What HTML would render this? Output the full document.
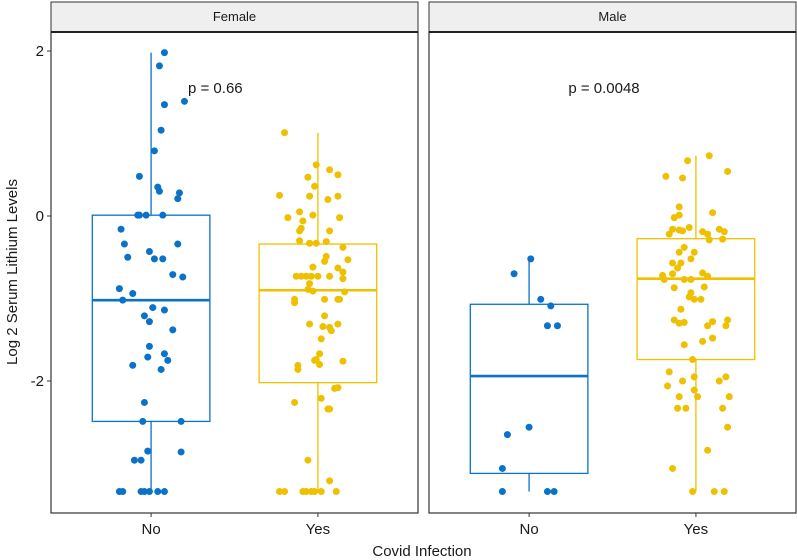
<!DOCTYPE html>
<html><head><meta charset="utf-8"><style>
html,body{margin:0;padding:0;background:#fff;}
svg{display:block;font-family:"Liberation Sans",Arial,sans-serif;}
</style></head><body>
<svg id="chart" width="797" height="560" viewBox="0 0 797 560"></svg>
<script>
const panels = ["Female","Male"];
const categories = ["No","Yes"];
const yTicks = [2,0,-2];
const pLabels = ["p = 0.66","p = 0.0048"];
// box stats [q1, median, q3, whiskerLo, whiskerHi]
const boxFemaleNo = [-2.49,-1.02,0.01,-3.34,1.98];
const boxFemaleYes = [-2.02,-0.90,-0.34,-3.34,1.01];
const boxMaleNo = [-3.12,-1.94,-1.07,-3.34,-0.52];
const boxMaleYes = [-1.74,-0.76,-0.275,-3.34,0.73];
const femaleNoValues = [1.98,1.82,1.39,1.35,1.04,0.79,0.48,0.35,0.30,0.28,0.21,0.01,0.01,0.01,0.01,-0.16,-0.34,-0.34,-0.50,-0.43,-0.52,-0.52,-0.71,-0.74,-0.88,-0.94,-1.02,-1.11,-1.14,-1.21,-1.28,-1.38,-1.58,-1.67,-1.75,-1.71,-1.81,-1.86,-2.26,-2.49,-2.49,-2.85,-2.86,-2.96,-2.96,-3.34,-3.34,-3.34,-3.34,-3.34,-3.34,-3.34];
const femaleNoJitter = [8,5,20,8,6,2,-7,4,5,17,16,-8,-7,-3,7,-18,-16,16,-14,-1,2,7,13,19,-19,-11,-17,1,8,-4,-1,13,-1,8,10,-2,-11,6,-4,-5,18,-2,18,-10,-6,-19,-17,-6,-4,-1,4,8];
const femaleYesValues = [1.01,0.62,0.56,0.50,0.47,0.36,0.25,0.24,0.20,0.24,0.05,0.01,-0.02,-0.06,-0.02,-0.15,-0.18,-0.18,-0.30,-0.33,-0.33,-0.31,-0.38,-0.49,-0.55,-0.53,-0.62,-0.63,-0.68,-0.76,-0.73,-0.73,-0.73,-0.73,-0.73,-0.73,-0.82,-0.89,-0.91,-0.92,-1.01,-1.05,-1.01,-1.01,-1.01,-1.21,-1.31,-1.34,-1.35,-1.31,-1.39,-1.49,-1.67,-1.75,-1.80,-1.74,-1.76,-1.81,-1.86,-2.08,-2.09,-2.21,-2.26,-2.34,-2.34,-2.96,-3.21,-3.34,-3.34,-3.34,-3.34,-3.34,-3.34,-3.34,-3.34];
const femaleYesJitter = [-20,-1,7,12,-6,-2,-23,-5,6,12,-11,-3,-18,-9,13,-10,-11,7,-11,-5,-1,5,15,5,4,18,-3,12,15,15,-13,-10,-7,-4,0,7,-5,-6,-3,16,-14,-14,4,12,13,4,-5,3,7,12,8,2,1,-2,1,-1,15,-12,-12,12,10,2,-14,6,7,-6,7,-23,-20,-9,-7,-4,-2,2,11];
const maleNoValues = [-0.52,-0.70,-1.01,-1.09,-1.33,-1.33,-2.56,-2.65,-3.06,-3.34,-3.34,-3.34];
const maleNoJitter = [1,-9,7,13,11,17,0,-13,-16,-16,11,15];
const maleYesValues = [0.73,0.67,0.48,0.46,0.54,0.11,0.04,0.01,-0.02,-0.14,-0.16,-0.17,-0.18,-0.22,-0.19,-0.22,-0.16,-0.19,-0.29,-0.28,-0.38,-0.44,-0.44,-0.52,-0.57,-0.57,-0.63,-0.72,-0.70,-0.77,-0.77,-0.77,-0.69,-0.73,-0.87,-0.86,-0.93,-0.98,-1.01,-1.01,-1.13,-1.26,-1.30,-1.29,-1.33,-1.28,-1.26,-1.33,-1.56,-1.52,-1.48,-1.74,-1.89,-2.00,-1.95,-2.00,-1.95,-2.06,-2.11,-2.19,-2.19,-2.19,-2.33,-2.33,-2.33,-2.56,-2.84,-3.06,-3.34,-3.34,-3.34];
const maleYesJitter = [8,-5,-18,-8,19,-10,10,-10,-13,-4,-14,-10,-8,-16,4,7,14,17,8,16,-7,-10,-1,-3,-14,-9,-11,-20,-14,-19,-7,-3,4,7,-13,5,-3,-4,-1,3,-9,-13,-10,-7,7,10,19,18,-7,4,10,-2,-16,-8,-1,14,18,-17,-1,1,-10,20,-11,-6,16,19,7,-14,-2,11,17];

const svg = document.getElementById('chart');
const NS = 'http://www.w3.org/2000/svg';
function mk(tag, attrs){ const e=document.createElementNS(NS,tag); for(const k in attrs) e.setAttribute(k,attrs[k]); svg.appendChild(e); return e; }
const panelLeft = [51,429], panelW = 367, plotTop = 32, plotBottom = 513;
const step = panelW/2.2;
function xCat(p,c){ return panelLeft[p] + step*(0.6 + c); }
function yScale(v){ return 216 - 82.5*v; }
const colors = ["#0A72C8","#EFC000"];
const groups = [
  [[boxFemaleNo,femaleNoValues,femaleNoJitter],[boxFemaleYes,femaleYesValues,femaleYesJitter]],
  [[boxMaleNo,maleNoValues,maleNoJitter],[boxMaleYes,maleYesValues,maleYesJitter]]
];

panels.forEach((name,p)=>{
  const L = panelLeft[p];
  const strip = mk('rect',{x:L,y:2,width:panelW,height:plotTop-2,fill:'#efefef',stroke:'#333','stroke-width':1});
  
  
  const st = mk('text',{x:L+panelW/2,y:21,'text-anchor':'middle','font-size':13,fill:'#1a1a1a'});
  st.textContent = name;
  
  
  const pb = mk('rect',{x:L,y:plotTop,width:panelW,height:plotBottom-plotTop,fill:'#fff',stroke:'#333','stroke-width':1.2});
  
  
  mk('line',{x1:L,x2:L+panelW,y1:plotTop,y2:plotTop,stroke:'#222','stroke-width':2});
  categories.forEach((cat,c)=>{
    const cx = xCat(p,c), col = colors[c];
    const [b,vals,jit] = groups[p][c];
    const hw = step*0.75/2*0.94;
    const g = mk('g',{});
    
    
    const add=(tag,a)=>{const e=document.createElementNS(NS,tag); for(const k in a) e.setAttribute(k,a[k]); g.appendChild(e); return e;};
    add('line',{x1:cx,x2:cx,y1:yScale(b[2]),y2:yScale(b[4]),stroke:col,'stroke-width':1.3});
    add('line',{x1:cx,x2:cx,y1:yScale(b[0]),y2:yScale(b[3]),stroke:col,'stroke-width':1.3});
    add('rect',{x:cx-hw,y:yScale(b[2]),width:2*hw,height:yScale(b[0])-yScale(b[2]),fill:'#fff',stroke:col,'stroke-width':1.3});
    add('line',{x1:cx-hw,x2:cx+hw,y1:yScale(b[1]),y2:yScale(b[1]),stroke:col,'stroke-width':2.6});
    vals.forEach((v,i)=>{
      const pt = mk('circle',{cx:cx+jit[i]/100*step,cy:yScale(v),r:3.5,fill:col});
      
      
    });
    mk('line',{x1:cx,x2:cx,y1:plotBottom,y2:plotBottom+4,stroke:'#333','stroke-width':1});
    const tl = mk('text',{x:cx,y:534,'text-anchor':'middle','font-size':15,fill:'#1a1a1a'});
    tl.textContent = cat;
    
    
  });
  const pl = mk('text',{x: p===0 ? 188 : 604, y:93,'text-anchor': p===0 ? 'start':'middle','font-size':15,fill:'#1a1a1a'});
  pl.textContent = pLabels[p];
  
  
});
yTicks.forEach(t=>{
  const y = yScale(t);
  mk('line',{x1:47,x2:51,y1:y,y2:y,stroke:'#333','stroke-width':1});
  const tl = mk('text',{x:44,y:y+5,'text-anchor':'end','font-size':15,fill:'#1a1a1a'});
  tl.textContent = String(t);
  
  
});
const xt = mk('text',{x:422,y:556,'text-anchor':'middle','font-size':15,fill:'#1a1a1a'});
xt.textContent = 'Covid Infection';


const yt = mk('text',{x:0,y:0,'text-anchor':'middle','font-size':15,fill:'#1a1a1a',transform:'translate(17,272) rotate(-90)'});
yt.textContent = 'Log 2 Serum Lithium Levels';


</script>
</body></html>
